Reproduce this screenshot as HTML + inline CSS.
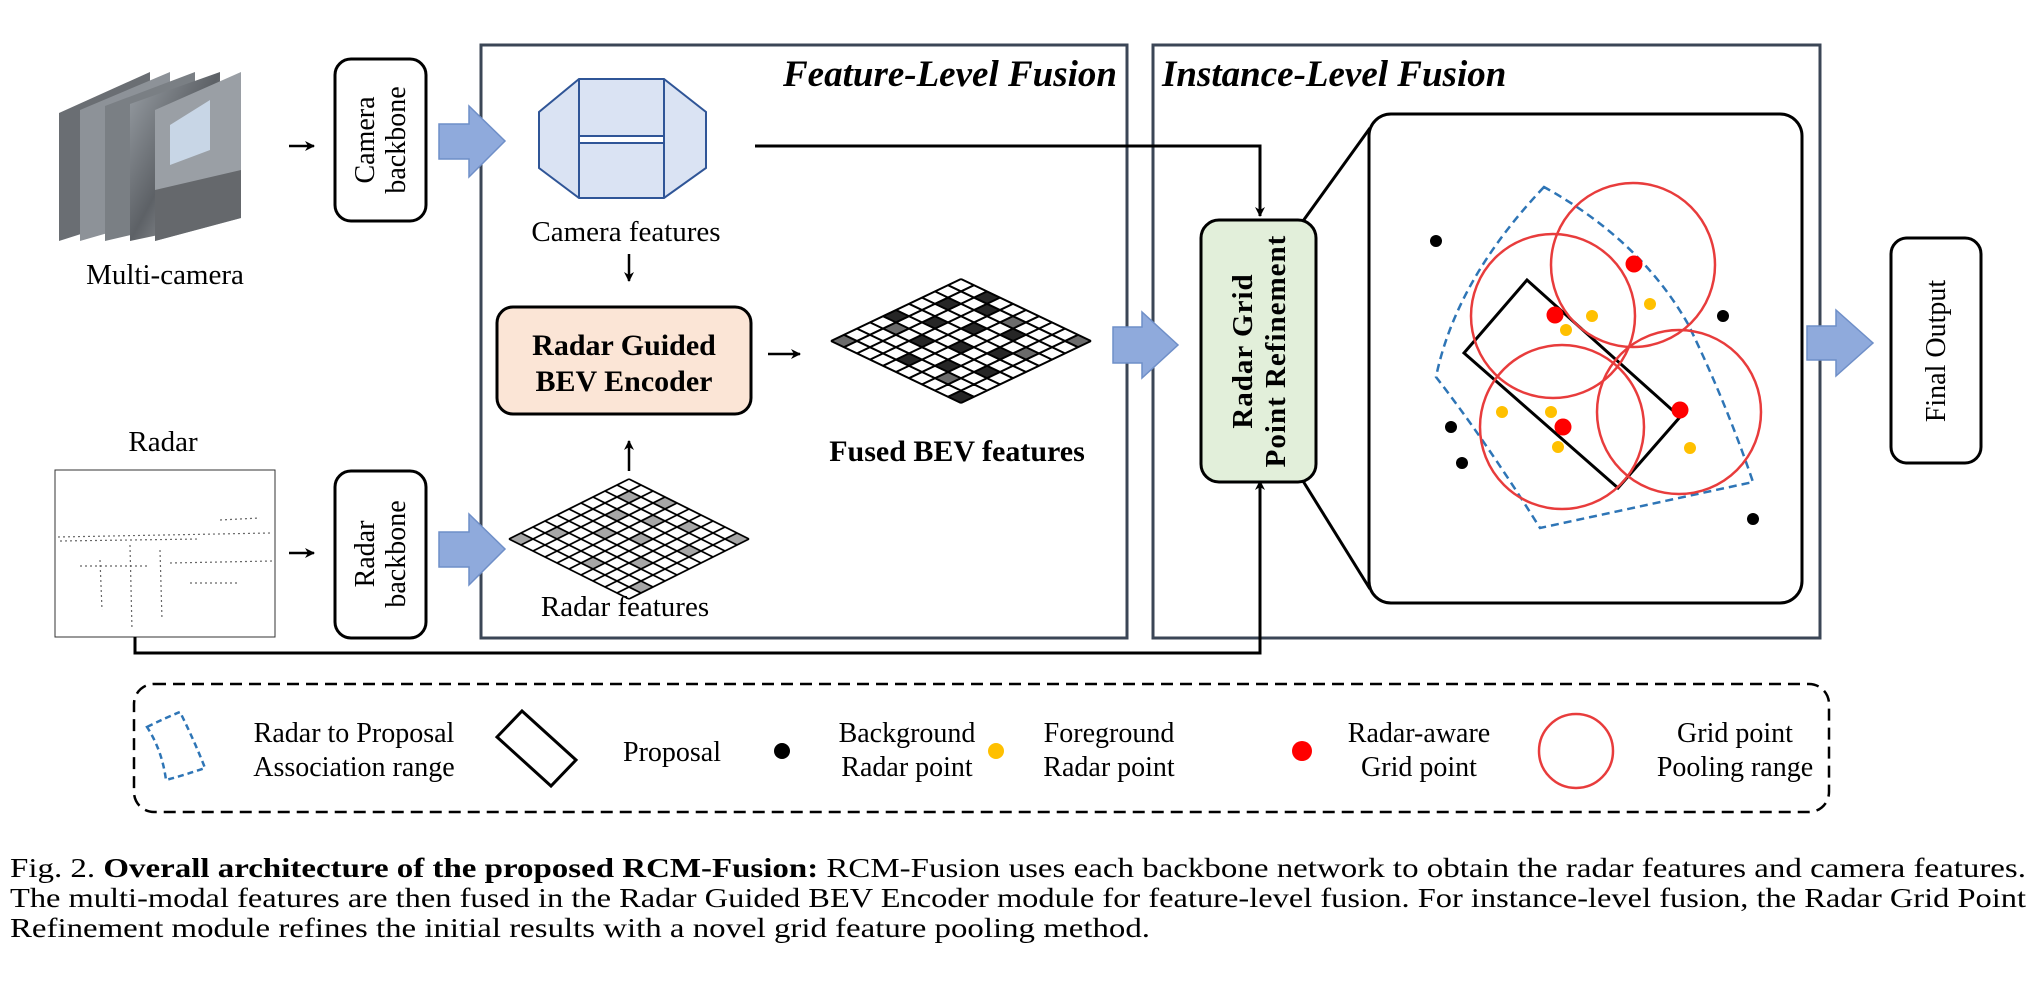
<!DOCTYPE html>
<html><head><meta charset="utf-8"><style>
html,body{margin:0;padding:0;background:#fff;}
svg{display:block;}
text{font-family:"Liberation Serif",serif;}
</style></head><body>
<svg width="2041" height="994" viewBox="0 0 2041 994" xmlns="http://www.w3.org/2000/svg">
<defs>
<marker id="ah" markerWidth="10" markerHeight="10" refX="9" refY="5" orient="auto" markerUnits="userSpaceOnUse"><path d="M0,0 L10,5 L0,10 L3,5 Z" fill="#000"/></marker>
<linearGradient id="cam" x1="0" y1="0" x2="1" y2="1"><stop offset="0" stop-color="#9aa0a6"/><stop offset="0.5" stop-color="#5d6166"/><stop offset="1" stop-color="#b9bcbf"/></linearGradient>
</defs>

<rect x="481" y="45" width="646" height="593" fill="none" stroke="#3b4656" stroke-width="3"/>
<rect x="1153" y="45" width="667" height="593" fill="none" stroke="#3b4656" stroke-width="3"/>
<text x="1117" y="86" font-size="37" font-weight="bold" font-style="italic" text-anchor="end">Feature-Level Fusion</text>
<text x="1162" y="86" font-size="37" font-weight="bold" font-style="italic">Instance-Level Fusion</text>

<g>
<polygon points="59,113 150,72 150,212 59,241" fill="#6a6e73"/>
<polygon points="80,110 170,72 170,215 80,241" fill="#8d9298"/>
<polygon points="105,106 195,72 195,220 105,241" fill="#7a7f84"/>
<polygon points="130,104 220,72 220,222 130,241" fill="url(#cam)"/>
<polygon points="155,110 241,72 241,218 155,241" fill="#9a9fa5"/>
<polygon points="170,125 210,100 210,150 170,165" fill="#c8d6e6"/>
<polygon points="155,190 241,170 241,218 155,241" fill="#65686c"/>
</g>
<text x="165" y="284" font-size="29" text-anchor="middle">Multi-camera</text>
<line x1="289" y1="146" x2="314" y2="146" stroke="#000" stroke-width="2.5" marker-end="url(#ah)"/>

<rect x="335" y="59" width="91" height="162" rx="16" fill="#fff" stroke="#000" stroke-width="3"/>
<text transform="translate(380,140) rotate(-90)" font-size="28" text-anchor="middle"><tspan x="0" y="-6">Camera</tspan><tspan x="0" y="25">backbone</tspan></text>
<polygon points="439,124 469,124 469,106 505,141 469,177 469,159 439,159" fill="#8faadc" stroke="#6f8fc8" stroke-width="1.5"/>

<g fill="#dae3f3" stroke="#2f5597" stroke-width="2">
<polygon points="579,79 664,79 706,112 706,168 664,198 579,198 539,168 539,112"/>
<rect x="579" y="136" width="85" height="7" fill="#fff"/>
<line x1="579" y1="79" x2="579" y2="198"/><line x1="664" y1="79" x2="664" y2="198"/>
</g>
<text x="626" y="241" font-size="29" text-anchor="middle">Camera features</text>
<line x1="629" y1="254" x2="629" y2="281" stroke="#000" stroke-width="2.5" marker-end="url(#ah)"/>

<rect x="497" y="307" width="254" height="107" rx="16" fill="#fbe5d6" stroke="#000" stroke-width="3"/>
<text x="624" y="355" font-size="30" font-weight="bold" text-anchor="middle">Radar Guided</text>
<text x="624" y="391" font-size="30" font-weight="bold" text-anchor="middle">BEV Encoder</text>
<line x1="768" y1="354" x2="800" y2="354" stroke="#000" stroke-width="2.5" marker-end="url(#ah)"/>
<line x1="629" y1="471" x2="629" y2="441" stroke="#000" stroke-width="2.5" marker-end="url(#ah)"/>

<g transform="matrix(13,6.2,-13,6.2,961,279)">
<g fill="#262626">
<rect x="2" y="0" width="1" height="1"/><rect x="3" y="1" width="1" height="1"/><rect x="1" y="2" width="1" height="1"/>
<rect x="4" y="3" width="1" height="1"/><rect x="2" y="4" width="1" height="1"/><rect x="6" y="2" width="1" height="1"/>
<rect x="5" y="5" width="1" height="1"/><rect x="3" y="6" width="1" height="1"/><rect x="7" y="4" width="1" height="1"/>
<rect x="6" y="7" width="1" height="1"/><rect x="8" y="6" width="1" height="1"/><rect x="4" y="8" width="1" height="1"/>
<rect x="0" y="5" width="1" height="1"/><rect x="9" y="9" width="1" height="1"/>
</g>
<g fill="#6b6b6b">
<rect x="0" y="9" width="1" height="1"/><rect x="9" y="0" width="1" height="1"/><rect x="5" y="1" width="1" height="1"/>
<rect x="1" y="6" width="1" height="1"/><rect x="7" y="8" width="1" height="1"/><rect x="8" y="3" width="1" height="1"/>
</g>
<path d="M0,0V10M1,0V10M2,0V10M3,0V10M4,0V10M5,0V10M6,0V10M7,0V10M8,0V10M9,0V10M10,0V10M0,0H10M0,1H10M0,2H10M0,3H10M0,4H10M0,5H10M0,6H10M0,7H10M0,8H10M0,9H10M0,10H10" fill="none" stroke="#000" stroke-width="2" vector-effect="non-scaling-stroke"/>
</g>
<text x="957" y="461" font-size="30" font-weight="bold" text-anchor="middle">Fused BEV features</text>

<g transform="matrix(12,6,-12,6,629,479)">
<g fill="#a6a6a6">
<rect x="1" y="1" width="1" height="1"/><rect x="3" y="0" width="1" height="1"/><rect x="2" y="3" width="1" height="1"/>
<rect x="4" y="2" width="1" height="1"/><rect x="5" y="4" width="1" height="1"/><rect x="3" y="5" width="1" height="1"/>
<rect x="6" y="1" width="1" height="1"/><rect x="7" y="6" width="1" height="1"/><rect x="1" y="7" width="1" height="1"/>
<rect x="5" y="8" width="1" height="1"/><rect x="8" y="3" width="1" height="1"/><rect x="9" y="8" width="1" height="1"/>
<rect x="0" y="9" width="1" height="1"/><rect x="9" y="0" width="1" height="1"/>
</g>
<path d="M0,0V10M1,0V10M2,0V10M3,0V10M4,0V10M5,0V10M6,0V10M7,0V10M8,0V10M9,0V10M10,0V10M0,0H10M0,1H10M0,2H10M0,3H10M0,4H10M0,5H10M0,6H10M0,7H10M0,8H10M0,9H10M0,10H10" fill="none" stroke="#000" stroke-width="1.8" vector-effect="non-scaling-stroke"/>
</g>
<text x="625" y="616" font-size="29" text-anchor="middle">Radar features</text>

<text x="163" y="451" font-size="29" text-anchor="middle">Radar</text>
<rect x="55" y="470" width="220" height="167" fill="#fff" stroke="#333" stroke-width="1"/>
<g stroke="#666" stroke-width="1.2" stroke-dasharray="2 3">
<line x1="58" y1="537" x2="270" y2="533"/><line x1="60" y1="541" x2="200" y2="539"/>
<line x1="170" y1="563" x2="272" y2="561"/><line x1="80" y1="566" x2="150" y2="566"/>
<line x1="190" y1="583" x2="240" y2="583"/><line x1="130" y1="545" x2="132" y2="630"/>
<line x1="160" y1="550" x2="162" y2="620"/><line x1="100" y1="560" x2="102" y2="610"/>
<line x1="220" y1="520" x2="260" y2="518"/>
</g>
<line x1="289" y1="553" x2="314" y2="553" stroke="#000" stroke-width="2.5" marker-end="url(#ah)"/>

<rect x="335" y="471" width="91" height="167" rx="16" fill="#fff" stroke="#000" stroke-width="3"/>
<text transform="translate(380,554) rotate(-90)" font-size="28" text-anchor="middle"><tspan x="0" y="-6">Radar</tspan><tspan x="0" y="25">backbone</tspan></text>
<polygon points="439,532 469,532 469,514 505,549 469,585 469,567 439,567" fill="#8faadc" stroke="#6f8fc8" stroke-width="1.5"/>

<polyline points="755,146 1260,146 1260,216" fill="none" stroke="#000" stroke-width="3" marker-end="url(#ah)"/>
<polyline points="135,637 135,653 1260,653 1260,481" fill="none" stroke="#000" stroke-width="3" marker-end="url(#ah)"/>

<polygon points="1113,327 1142,327 1142,312 1178,345 1142,378 1142,363 1113,363" fill="#8faadc" stroke="#6f8fc8" stroke-width="1.5"/>

<rect x="1201" y="220" width="115" height="262" rx="18" fill="#e2efda" stroke="#000" stroke-width="3"/>
<text transform="translate(1258,351) rotate(-90)" font-size="29" font-weight="bold" text-anchor="middle" letter-spacing="1"><tspan x="0" y="-6">Radar Grid</tspan><tspan x="0" y="27">Point Refinement</tspan></text>
<line x1="1303" y1="221" x2="1370" y2="128" stroke="#000" stroke-width="3"/>
<line x1="1303" y1="481" x2="1370" y2="589" stroke="#000" stroke-width="3"/>

<rect x="1369" y="114" width="433" height="489" rx="22" fill="#fff" stroke="#000" stroke-width="3"/>
<path d="M1544,187 Q1456,280 1436,377 Q1485,440 1540,528 L1753,482 Q1725,400 1688,324 Q1640,240 1544,187 Z" fill="none" stroke="#2e75b6" stroke-width="2.5" stroke-dasharray="8 5"/>
<polygon points="1527,280 1464,353 1618,488 1680,417" fill="none" stroke="#000" stroke-width="3"/>
<g fill="none" stroke="#e83c3c" stroke-width="2.5">
<circle cx="1633" cy="265" r="82"/><circle cx="1553" cy="316" r="82"/>
<circle cx="1562" cy="427" r="82"/><circle cx="1679" cy="412" r="82"/>
</g>
<g fill="#000"><circle cx="1436" cy="241" r="6"/><circle cx="1723" cy="316" r="6"/><circle cx="1451" cy="427" r="6"/><circle cx="1462" cy="463" r="6"/><circle cx="1753" cy="519" r="6"/></g>
<g fill="#ffc000"><circle cx="1592" cy="316" r="6"/><circle cx="1650" cy="304" r="6"/><circle cx="1566" cy="330" r="6"/><circle cx="1502" cy="412" r="6"/><circle cx="1551" cy="412" r="6"/><circle cx="1558" cy="447" r="6"/><circle cx="1690" cy="448" r="6"/></g>
<g fill="#ff0000"><circle cx="1634" cy="264" r="8.5"/><circle cx="1555" cy="315" r="8.5"/><circle cx="1563" cy="427" r="8.5"/><circle cx="1680" cy="410" r="8.5"/></g>

<polygon points="1807,326 1836,326 1836,310 1873,343 1836,376 1836,360 1807,360" fill="#8faadc" stroke="#6f8fc8" stroke-width="1.5"/>
<rect x="1891" y="238" width="90" height="225" rx="16" fill="#fff" stroke="#000" stroke-width="3"/>
<text transform="translate(1945,351) rotate(-90)" font-size="28" text-anchor="middle">Final Output</text>

<rect x="134" y="684" width="1695" height="128" rx="20" fill="none" stroke="#000" stroke-width="2.5" stroke-dasharray="12 7"/>
<path d="M147,727 Q165,718 180,712 Q194,740 205,768 Q185,775 166,780 Q162,750 147,727 Z" fill="none" stroke="#2e75b6" stroke-width="2.5" stroke-dasharray="6 4"/>
<text x="354" y="742" font-size="28" text-anchor="middle">Radar to Proposal</text>
<text x="354" y="776" font-size="28" text-anchor="middle">Association range</text>
<polygon points="522,711 576,760 551,786 497,737" fill="none" stroke="#000" stroke-width="3"/>
<text x="672" y="761" font-size="28" text-anchor="middle">Proposal</text>
<circle cx="782" cy="751" r="8" fill="#000"/>
<text x="907" y="742" font-size="28" text-anchor="middle">Background</text>
<text x="907" y="776" font-size="28" text-anchor="middle">Radar point</text>
<circle cx="996" cy="751" r="8" fill="#ffc000"/>
<text x="1109" y="742" font-size="28" text-anchor="middle">Foreground</text>
<text x="1109" y="776" font-size="28" text-anchor="middle">Radar point</text>
<circle cx="1302" cy="751" r="10" fill="#ff0000"/>
<text x="1419" y="742" font-size="28" text-anchor="middle">Radar-aware</text>
<text x="1419" y="776" font-size="28" text-anchor="middle">Grid point</text>
<circle cx="1576" cy="751" r="37" fill="none" stroke="#e83c3c" stroke-width="2.5"/>
<text x="1735" y="742" font-size="28" text-anchor="middle">Grid point</text>
<text x="1735" y="776" font-size="28" text-anchor="middle">Pooling range</text>

<text x="10" y="877" font-size="27" textLength="2016" lengthAdjust="spacingAndGlyphs">Fig. 2.   <tspan font-weight="bold">Overall architecture of the proposed RCM-Fusion:</tspan> RCM-Fusion uses each backbone network to obtain the radar features and camera features.</text>
<text x="10" y="907" font-size="27" textLength="2016" lengthAdjust="spacingAndGlyphs">The multi-modal features are then fused in the Radar Guided BEV Encoder module for feature-level fusion. For instance-level fusion, the Radar Grid Point</text>
<text x="10" y="937" font-size="27" textLength="1140" lengthAdjust="spacingAndGlyphs">Refinement module refines the initial results with a novel grid feature pooling method.</text>
</svg>
</body></html>
